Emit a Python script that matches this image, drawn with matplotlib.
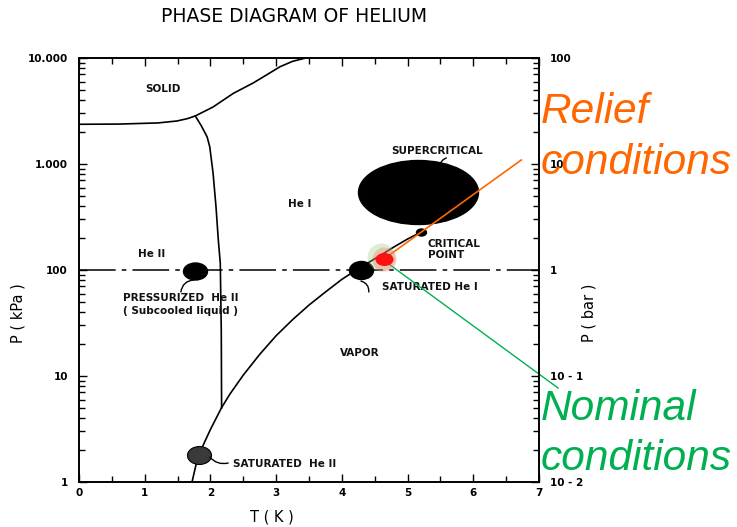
import matplotlib
matplotlib.use("Agg")
import matplotlib.pyplot as plt
from matplotlib.path import Path
from matplotlib.transforms import Affine2D
from matplotlib.ticker import FixedLocator, FixedFormatter, LogLocator, NullFormatter

# saturated vapour pressure curve (T in K, P in kPa)
vapor_T = [1.72, 1.80, 1.90, 2.00, 2.17, 2.30, 2.50, 2.75, 3.00, 3.25, 3.50, 3.75,
           4.00, 4.22, 4.40, 4.60, 4.80, 5.00, 5.20]
vapor_P = [1.0, 1.64, 2.3, 3.13, 5.04, 6.8, 10.2, 16.0, 24.0, 34.0, 46.7, 62.0,
           81.6, 100.0, 117.0, 139.0, 166.0, 196.0, 227.0]

# lambda line (He I / He II boundary)
lambda_T = [2.17, 2.165, 2.15, 2.12, 2.085, 2.04, 1.99, 1.95, 1.86, 1.77]
lambda_P = [5.0, 27.0, 116.0, 192.0, 393.0, 822.0, 1450.0, 1800.0, 2300.0, 2840.0]

# melting curve
melt_T = [0.0, 0.6, 1.2, 1.49, 1.65, 1.77, 2.04, 2.35, 2.65, 2.85, 3.06, 3.25, 3.45]
melt_P = [2370.0, 2380.0, 2440.0, 2545.0, 2680.0, 2840.0, 3450.0, 4645.0, 5810.0,
          6900.0, 8280.0, 9300.0, 10000.0]

atm_P = 100.0

# operating points
pressurized_T, pressurized_P = 1.77, 98.0
sat_he1_T, sat_he1_P = 4.29, 100.0
sat_he2_T, sat_he2_P = 1.82, 1.78
critical_T, critical_P = 5.21, 227.0
supercrit_T, supercrit_P = 5.16, 545.0
relief_T, relief_P = 4.64, 127.0

x_ticks = [0, 1, 2, 3, 4, 5, 6, 7]
kpa_ticks = [1, 10, 100, 1000, 10000]
kpa_labels = ["1", "10", "100", "1.000", "10.000"]
bar_ticks = [0.01, 0.1, 1, 10, 100]
bar_labels = ["10 - 2", "10 - 1", "1", "10", "100"]

ORANGE = "#FF6600"
GREEN = "#00B050"


def ellipse(ratio):
    verts = Affine2D().scale(1.0, ratio).transform(Path.unit_circle().vertices)
    return Path(verts, Path.unit_circle().codes)


def px(n):
    # pixels to points at 100 dpi
    return n * 0.72


fig = plt.figure(figsize=(7.37, 5.27), dpi=100)
ax = fig.add_axes([79 / 737, 1 - 482 / 527, 460 / 737, 424 / 527])
ax.set_xlim(0, 7)
ax.set_yscale("log")
ax.set_ylim(1, 10000)

lw = 1.2
ax.plot(vapor_T, vapor_P, color="black", lw=lw)
ax.plot(lambda_T, lambda_P, color="black", lw=lw)
ax.plot(melt_T, melt_P, color="black", lw=lw)
ax.plot([0, 7], [atm_P, atm_P], color="black", lw=1.1, linestyle=(0, (24, 4, 3, 4)))

# filled state ellipses
ax.plot(supercrit_T, supercrit_P, marker=ellipse(64 / 120), ms=px(120), color="black", ls="none")
ax.plot(pressurized_T, pressurized_P, marker=ellipse(17 / 24), ms=px(24), color="black", ls="none")
ax.plot(sat_he1_T, sat_he1_P, marker=ellipse(18 / 24), ms=px(24), color="black", ls="none")
ax.plot(sat_he2_T, sat_he2_P, marker=ellipse(18 / 24), ms=px(24), color="#3a3a3a",
        mec="black", mew=0.8, ls="none")
ax.plot(critical_T, critical_P, marker=ellipse(0.7), ms=px(10), color="black", ls="none")

# annotation lines to the slide text
ax.plot([relief_T, 6.73], [relief_P, 1091.0], color=ORANGE, lw=1.2, clip_on=False, zorder=4)
ax.plot([4.69, 7.29], [116.8, 7.7], color=GREEN, lw=1.0, clip_on=False, zorder=4)

# glowing relief point
ax.plot(relief_T - 0.05, relief_P * 1.04, marker="o", ms=px(28), color="#8fc46a", alpha=0.3,
        mew=0, ls="none", zorder=5)
ax.plot(relief_T, relief_P, marker="o", ms=px(24), color="#ff6060", alpha=0.3, mew=0,
        ls="none", zorder=5)
ax.plot(relief_T, relief_P, marker=ellipse(13 / 18), ms=px(18), color="#ff1010", mew=0,
        ls="none", zorder=6)

lab = dict(fontsize=7.5, fontweight="bold", color="#111111", family="DejaVu Sans")
ax.text(1.28, 5100, "SOLID", ha="center", va="center", **lab)
ax.text(3.36, 420, "He I", ha="center", va="center", **lab)
ax.text(5.45, 1327, "SUPERCRITICAL", ha="center", va="center", **lab)
ax.text(5.31, 156, "CRITICAL\nPOINT", ha="left", va="center", linespacing=1.1, **lab)
ax.text(1.11, 142, "He II", ha="center", va="center", **lab)
ax.text(0.67, 54.4, "PRESSURIZED  He II", ha="left", va="center", **lab)
ax.text(0.67, 41, "( Subcooled liquid )", ha="left", va="center", **lab)
ax.text(4.61, 69, "SATURATED He I", ha="left", va="center", **lab)
ax.text(4.28, 16.5, "VAPOR", ha="center", va="center", **lab)
ax.text(2.34, 1.48, "SATURATED  He II", ha="left", va="center", **lab)

lead = dict(arrowstyle="-", lw=1.0, color="black", shrinkA=0, shrinkB=0)
ax.annotate("", xy=(1.75, 80.6), xytext=(1.55, 62), arrowprops=dict(connectionstyle="arc3,rad=-0.4", **lead))
ax.annotate("", xy=(4.29, 78.6), xytext=(4.41, 62), arrowprops=dict(connectionstyle="arc3,rad=0.4", **lead))
ax.annotate("", xy=(1.99, 1.72), xytext=(2.27, 1.51), arrowprops=dict(connectionstyle="arc3,rad=-0.3", **lead))
ax.annotate("", xy=(5.49, 957), xytext=(5.59, 1140), arrowprops=dict(connectionstyle="arc3,rad=0.3", **lead))

# axes styling
for s in ax.spines.values():
    s.set_linewidth(1.2)
ax.xaxis.set_major_locator(FixedLocator(x_ticks))
ax.xaxis.set_minor_locator(FixedLocator([t + 0.5 for t in x_ticks[:-1]]))
ax.yaxis.set_major_locator(FixedLocator(kpa_ticks))
ax.yaxis.set_major_formatter(FixedFormatter(kpa_labels))
ax.yaxis.set_minor_locator(LogLocator(base=10, subs=range(2, 10)))
ax.yaxis.set_minor_formatter(NullFormatter())
ax.tick_params(which="both", direction="in", top=True, right=False, width=1.0)
ax.tick_params(which="major", length=6)
ax.tick_params(which="minor", length=4)
ax.tick_params(axis="y", which="major", pad=8)
ax.tick_params(axis="x", which="major", pad=4)
for t in ax.get_xticklabels() + ax.get_yticklabels():
    t.set_fontsize(7.5)
    t.set_fontweight("bold")

ax2 = ax.twinx()
ax2.set_yscale("log")
ax2.set_ylim(0.01, 100)
ax2.yaxis.set_major_locator(FixedLocator(bar_ticks))
ax2.yaxis.set_major_formatter(FixedFormatter(bar_labels))
ax2.yaxis.set_minor_locator(LogLocator(base=10, subs=range(2, 10)))
ax2.yaxis.set_minor_formatter(NullFormatter())
ax2.tick_params(which="both", direction="in", width=1.0)
ax2.tick_params(which="major", length=6, pad=8)
ax2.tick_params(which="minor", length=4)
for t in ax2.get_yticklabels():
    t.set_fontsize(7.5)
    t.set_fontweight("bold")
for s in ax2.spines.values():
    s.set_linewidth(1.2)

fig.text(294 / 737, 1 - 17 / 527, "PHASE DIAGRAM OF HELIUM", ha="center", va="center",
         fontsize=13.5, family="DejaVu Sans")
fig.text(18 / 737, 1 - 313 / 527, "P ( kPa )", rotation=90, ha="center", va="center",
         fontsize=10.5, family="DejaVu Sans")
fig.text(589 / 737, 1 - 313 / 527, "P ( bar )", rotation=90, ha="center", va="center",
         fontsize=10.5, family="DejaVu Sans")
fig.text(272 / 737, 1 - 517 / 527, "T ( K )", ha="center", va="center",
         fontsize=10.5, family="DejaVu Sans")

big = dict(fontsize=30.5, style="italic", family="Liberation Sans", ha="left", va="baseline")
fig.text(541 / 737, 1 - 123 / 527, "Relief", color=ORANGE, **big)
fig.text(541 / 737, 1 - 174 / 527, "conditions", color=ORANGE, **big)
fig.text(541 / 737, 1 - 420 / 527, "Nominal", color=GREEN, **big)
fig.text(541 / 737, 1 - 470 / 527, "conditions", color=GREEN, **big)

fig.savefig("out.png", dpi=100)
